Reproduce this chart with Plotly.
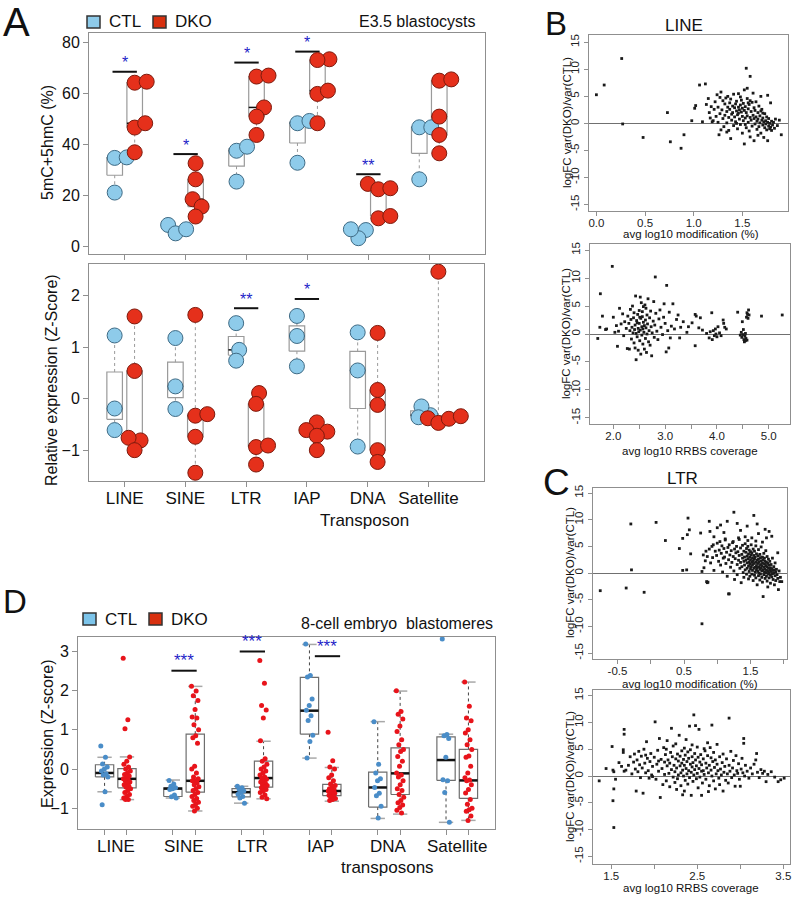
import math
import plotly.graph_objects as go

W, H = 796, 897
FONT = "Liberation Sans, Arial, sans-serif"

categories = ["LINE", "SINE", "LTR", "IAP", "DNA", "Satellite"]

# ---------------- Panel A (E3.5 blastocysts) ----------------
a_meth_ctl = [[21.2, 34.8, 35.0], [8.5, 5.2, 6.8], [25.5, 37.6, 39.2],
              [32.9, 48.4, 49.3], [6.5, 3.3, 6.8], [26.4, 46.8, 46.8]]
a_meth_dko = [[37.0, 46.7, 48.4, 64.3, 64.7], [32.7, 26.4, 18.6, 15.7, 11.8],
              [66.7, 67.1, 54.6, 51.0, 43.8], [73.5, 73.2, 59.9, 61.2, 48.4],
              [24.6, 22.5, 22.9, 11.1, 12.0], [36.6, 43.8, 51.0, 65.1, 65.6]]
a_meth_sig_cat = [0, 1, 2, 3, 4]
a_meth_sig_y = [68.6, 36.3, 72.2, 76.5, 28.4]
a_meth_sig_lab = ["*", "*", "*", "*", "**"]

a_expr_ctl = [[1.23, -0.19, -0.61], [1.18, 0.24, -0.20], [1.47, 0.95, 0.74],
              [1.61, 1.22, 0.63], [1.29, 0.55, -0.93], [-0.32, -0.15, -0.36]]
a_expr_dko = [[1.60, 0.54, -0.81, -0.76, -1.00], [1.63, -0.33, -0.30, -0.74, -1.44],
              [0.11, -0.10, -0.94, -0.91, -1.28], [-0.46, -0.61, -0.64, -0.72, -1.00],
              [1.28, 0.17, -0.12, -1.00, -1.23], [2.47, -0.38, -0.47, -0.39, -0.34]]
a_expr_sig_cat = [2, 3]
a_expr_sig_y = [1.76, 1.94]
a_expr_sig_lab = ["**", "*"]

# ---------------- Panel D (8-cell embryo blastomeres) ----------------
d_ctl_pts = [
    [0.59, 0.30, 0.13, 0.05, 0.0, -0.05, -0.12, -0.15, -0.2, -0.58, -0.91],
    [-0.29, -0.38, -0.44, -0.48, -0.5, -0.52, -0.66, -0.71, -0.74],
    [-0.44, -0.48, -0.52, -0.56, -0.6, -0.64, -0.7, -0.74, -0.87],
    [3.19, 2.39, 2.35, 1.79, 1.62, 1.5, 1.36, 1.24, 0.86, 0.70, 0.28],
    [1.21, 0.12, -0.1, -0.25, -0.3, -0.47, -0.62, -0.68, -0.95, -1.25],
    [3.32, 0.88, 0.85, 0.78, 0.3, -0.27, -0.3, -0.6, -1.36],
]
d_dko_pts = [
    [2.83, 1.26, 1.03, 0.31, 0.2, 0.12, 0.05, 0.0, -0.05, -0.1, -0.14, -0.18, -0.22, -0.25,
     -0.27, -0.3, -0.33, -0.36, -0.4, -0.43, -0.46, -0.5, -0.55, -0.6, -0.65, -0.7, -0.74, -0.78, -0.78],
    [2.11, 1.99, 1.87, 1.75, 1.52, 1.33, 1.3, 1.13, 1.0, 0.85, 0.8, 0.66, 0.07, 0.0, -0.1, -0.2,
     -0.25, -0.3, -0.3, -0.35, -0.4, -0.45, -0.5, -0.55, -0.6, -0.65, -0.7, -0.75, -0.8, -0.85,
     -0.9, -0.95, -1.0, -1.07],
    [2.77, 2.19, 1.62, 1.51, 1.30, 0.72, 0.26, 0.2, 0.12, 0.05, 0.0, -0.05, -0.1, -0.15, -0.2,
     -0.23, -0.26, -0.3, -0.33, -0.36, -0.4, -0.42, -0.45, -0.48, -0.52, -0.56, -0.6, -0.66, -0.72, -0.76],
    [0.94, 0.21, 0.05, 0.0, -0.15, -0.22, -0.3, -0.38, -0.42, -0.46, -0.5, -0.52, -0.54, -0.56,
     -0.58, -0.6, -0.62, -0.64, -0.67, -0.7, -0.72, -0.75, -0.78, -0.8],
    [2.0, 1.47, 1.4, 1.28, 1.1, 0.96, 0.75, 0.62, 0.5, 0.45, 0.32, 0.2, 0.07, -0.1, -0.15, -0.2,
     -0.3, -0.4, -0.5, -0.55, -0.65, -0.72, -0.8, -0.86, -0.92, -0.98, -1.05, -1.12],
    [2.22, 1.6, 1.3, 1.23, 1.0, 0.92, 0.75, 0.62, 0.5, 0.33, 0.3, 0.07, -0.1, -0.22, -0.28, -0.3,
     -0.4, -0.52, -0.61, -0.78, -0.9, -1.0, -1.04, -1.08, -1.2, -1.31],
]
d_ctl_q1 = [-0.20, -0.70, -0.71, 0.89, -0.97, -0.29]
d_ctl_med = [-0.10, -0.50, -0.59, 1.49, -0.47, 0.23]
d_ctl_q3 = [0.11, -0.48, -0.50, 2.34, -0.08, 0.82]
d_ctl_lo = [-0.58, -0.74, -0.87, 0.28, -1.26, -1.36]
d_ctl_hi = [0.30, -0.28, -0.44, 3.18, 1.21, 0.89]
d_dko_q1 = [-0.48, -0.59, -0.46, -0.68, -0.65, -0.75]
d_dko_med = [-0.25, -0.30, -0.23, -0.56, -0.11, -0.29]
d_dko_q3 = [0.01, 0.89, 0.20, -0.39, 0.54, 0.50]
d_dko_lo = [-0.78, -1.07, -0.76, -0.82, -1.15, -1.31]
d_dko_hi = [0.31, 2.11, 0.71, 0.04, 1.99, 2.22]
d_sig_cat = [1, 2, 3]
d_sig_y = [2.51, 3.0, 2.88]
d_sig_lab = ["***", "***", "***"]

# ---------------- Panel B (LINE) ----------------
b_mod_pts = [
    (0.00, 5.3), (0.08, 7.1), (0.26, 12.0), (0.27, -0.1), (0.48, -2.6), (0.73, 2.0), (0.76, -3.4),
    (0.87, -4.6), (0.90, -2.1), (0.98, 0.5), (1.01, 2.8), (1.02, 3.3), (1.06, 7.1), (1.12, 7.3),
    (1.09, 0.3), (1.54, 10.2), (1.58, 8.7),
    (1.13, 3.5), (1.15, 4.6), (1.16, 2.0), (1.17, 1.0), (1.18, 3.1), (1.20, 0.5), (1.21, 2.6),
    (1.22, 4.0), (1.23, 1.3), (1.24, 5.3), (1.25, 0.2), (1.25, 3.0), (1.26, -2.1), (1.27, 4.8),
    (1.27, 1.8), (1.28, 5.8), (1.29, 2.5), (1.30, 0.9), (1.30, 4.2), (1.31, -0.6), (1.32, 3.6),
    (1.32, 1.5), (1.33, 4.7), (1.34, 2.2), (1.34, 0.1), (1.35, 5.0), (1.35, 3.0), (1.36, 1.1),
    (1.36, -1.3), (1.37, 3.8), (1.37, 2.6), (1.38, -2.8), (1.38, 4.5), (1.39, 1.7), (1.39, 0.6),
    (1.40, 3.2), (1.40, 2.0), (1.41, 5.4), (1.41, -0.4), (1.42, 2.9), (1.42, 1.2), (1.43, 3.6),
    (1.43, 0.3), (1.44, 4.1), (1.44, 2.3), (1.45, -1.0), (1.45, 1.6), (1.46, 3.0), (1.46, 5.5),
    (1.47, 2.5), (1.47, 0.8), (1.48, 3.4), (1.48, -0.2), (1.49, 2.1), (1.49, 4.3), (1.50, 1.3),
    (1.50, 2.8), (1.50, -1.8), (1.51, 3.7), (1.51, 0.5), (1.52, -3.8), (1.52, 2.4), (1.52, 6.2),
    (1.53, 1.0), (1.53, 3.1), (1.54, -0.8), (1.54, 2.0), (1.55, 4.6), (1.55, 1.4), (1.55, 6.5),
    (1.56, 0.2), (1.56, 2.7), (1.57, -1.4), (1.57, 3.5), (1.58, 1.1), (1.58, -2.5), (1.59, 2.2),
    (1.59, 0.6), (1.60, 3.9), (1.60, -0.5), (1.61, 1.5), (1.61, 5.6), (1.62, 0.9), (1.62, -3.2),
    (1.63, 2.4), (1.63, -0.1), (1.64, 1.2), (1.64, 4.0), (1.65, 0.4), (1.65, -1.1), (1.66, 2.0),
    (1.66, 0.8), (1.67, 3.2), (1.67, -0.6), (1.68, 1.4), (1.68, 0.1), (1.69, 5.0), (1.69, -1.8),
    (1.70, 0.6), (1.70, 2.6), (1.71, -0.3), (1.71, 1.0), (1.72, -2.6), (1.72, 0.3), (1.73, 1.8),
    (1.73, -0.8), (1.74, 0.5), (1.74, -0.1), (1.75, 1.2), (1.75, -1.2), (1.76, 5.2), (1.76, -3.2),
    (1.76, 0.2), (1.77, -0.5), (1.77, 0.9), (1.78, -1.0), (1.78, 0.0), (1.79, 3.8), (1.79, -0.7),
    (1.80, 0.4), (1.80, -1.3), (1.81, -0.3), (1.82, 0.2), (1.83, -0.9), (1.84, 0.8), (1.86, -0.4),
    (1.88, 0.6), (1.90, -2.1), (1.62, 2.9), (1.56, 3.8), (1.48, 4.9), (1.44, 0.0), (1.34, -1.6),
    (1.28, -1.2), (1.19, 0.3), (1.71, 1.9), (1.66, -2.2), (1.53, -0.2), (1.46, 1.9), (1.58, 4.2),
    (1.69, 2.3),
]
b_cov_pts = [
    (1.70, -0.8), (1.74, 1.2), (1.75, 7.2), (1.79, 3.2), (1.85, 0.8), (1.87, 0.9), (1.98, 12.1),
    (2.00, 3.0), (2.03, 0.3), (2.06, 1.5), (2.08, -2.2), (2.10, 0.5), (2.12, 4.6), (2.15, 1.8),
    (2.18, 3.6), (2.20, -0.3), (2.22, 2.2), (2.25, 1.0), (2.27, -2.6), (2.28, 3.2), (2.30, 1.9),
    (2.31, -2.7), (2.32, 0.6), (2.33, 4.4), (2.34, 2.6), (2.35, -0.9), (2.36, 1.2), (2.37, 5.0),
    (2.38, 0.2), (2.39, 2.9), (2.40, -1.6), (2.40, 3.8), (2.41, 0.8), (2.42, -2.5), (2.42, 1.6),
    (2.43, 6.8), (2.44, -4.6), (2.44, 0.1), (2.45, 2.4), (2.46, -0.5), (2.47, 3.5), (2.48, 1.0),
    (2.48, -2.9), (2.49, 0.4), (2.50, 4.2), (2.50, 1.9), (2.51, -1.2), (2.52, 6.6), (2.52, 0.7),
    (2.53, 2.8), (2.53, -3.6), (2.54, 5.6), (2.55, 1.3), (2.55, -0.2), (2.56, 3.1), (2.57, 0.9),
    (2.57, -1.8), (2.58, 4.9), (2.58, 2.1), (2.59, 0.3), (2.60, -2.7), (2.60, 1.5), (2.61, 5.2),
    (2.62, -0.8), (2.62, 2.5), (2.63, 1.1), (2.64, -3.3), (2.65, 0.0), (2.65, 3.4), (2.66, 1.8),
    (2.67, 6.3), (2.68, -1.4), (2.69, 0.6), (2.70, 2.9), (2.71, -2.0), (2.72, 4.1), (2.73, 1.3),
    (2.74, -3.9), (2.75, 0.2), (2.77, 2.3), (2.78, 5.8), (2.79, -0.6), (2.80, 1.6), (2.81, 10.2),
    (2.82, 3.7), (2.84, 0.5), (2.86, -1.0), (2.88, 2.7), (2.90, 4.3), (2.92, 1.2), (2.95, -0.1),
    (2.97, 3.0), (2.98, 5.4), (3.00, 1.9), (3.02, -3.2), (3.03, 8.7), (3.05, 0.6), (3.07, -2.5),
    (3.08, 3.9), (3.10, -0.7), (3.12, 1.4), (3.15, 5.4), (3.18, 0.9), (3.22, 2.6), (3.25, 3.4),
    (3.28, -0.7), (3.30, 1.2), (3.35, 2.2), (3.42, 0.3), (3.45, 1.3), (3.52, 2.0), (3.58, 3.5),
    (3.58, -2.1), (3.60, 3.2), (3.65, 1.1), (3.68, 2.9), (3.72, 0.7), (3.80, 0.1), (3.85, -0.7),
    (3.87, 0.4), (3.90, 3.8), (3.91, -1.0), (3.93, 0.6), (3.95, -0.3), (3.97, 0.9), (3.98, 0.0),
    (4.00, -0.5), (4.02, 1.3), (4.05, 0.2), (4.08, -0.3), (4.12, 2.5), (4.13, 1.9), (4.15, 1.2),
    (4.18, 0.9), (4.40, 3.9), (4.45, -0.2), (4.47, 0.3), (4.48, -0.6), (4.49, 2.2), (4.50, -0.1),
    (4.51, 0.8), (4.52, -1.0), (4.53, -1.4), (4.54, -0.4), (4.55, -1.2), (4.55, 0.1), (4.56, -0.8),
    (4.57, 3.0), (4.58, -1.1), (4.58, 3.8), (4.60, 2.8), (4.61, 4.3), (4.62, 3.4), (4.59, 3.5),
    (4.86, 3.2), (5.26, 3.4), (2.46, 2.0), (2.56, 4.0), (2.63, 4.6), (2.51, 3.0),
]

# ---------------- Panel C (LTR) ----------------
c_mod_pts = [
    (-0.76, -3.3), (-0.37, -2.8), (-0.29, 0.6), (-0.10, -3.6), (-0.30, 9.2), (0.08, 9.5), (0.22, 6.1),
    (0.43, 4.6), (0.48, 6.5), (0.48, 0.5), (0.54, 0.6), (0.55, 7.2), (0.58, 8.1), (0.60, 3.6),
    (0.75, 7.5), (0.77, -9.5), (0.88, 9.7), (0.89, 7.8), (0.84, -1.6), (0.85, -1.8), (0.77, 0.3),
    (1.18, -3.9), (0.56, 10.3), (1.25, 11.4), (1.55, 10.8), (1.00, 8.5), (1.05, 9.0), (1.15, 9.7),
    (1.30, 9.3), (1.45, 8.8), (1.60, 9.2), (1.72, 8.2), (1.35, 8.0), (0.95, 6.8), (1.10, 7.6),
    (1.04, 5.9), (1.12, 6.4), (1.24, 5.9), (1.32, 6.6), (1.42, 6.8), (1.52, 6.6), (1.62, 7.4),
    (1.74, 6.6), (1.82, 6.9), (1.78, 7.8), (1.68, 5.8), (1.58, 6.0), (1.46, 6.1), (0.94, 5.3),
    (0.83, 4.1), (0.79, 3.4),
    (0.80, 1.0), (0.82, 2.3), (0.85, 3.1), (0.86, -1.7), (0.88, 4.5), (0.90, 1.9), (0.92, 5.0),
    (0.93, 2.9), (0.95, 0.5), (0.97, 4.1), (0.99, 3.3), (1.00, 5.6), (1.02, 2.2), (1.03, 4.3),
    (1.05, 1.5), (1.06, 3.7), (1.07, 5.1), (1.08, 0.2), (1.09, 2.8), (1.10, 4.6), (1.11, 3.0),
    (1.12, 6.2), (1.13, 1.8), (1.14, 3.9), (1.15, -0.6), (1.16, 4.8), (1.17, 2.5), (1.17, -3.9),
    (1.18, 5.3), (1.19, 3.4), (1.20, 1.1), (1.21, 4.2), (1.22, 2.0), (1.23, 5.7), (1.24, 3.1),
    (1.25, 0.4), (1.26, 4.5), (1.26, -1.2), (1.27, 2.7), (1.28, 3.8), (1.29, 5.0), (1.30, 1.6),
    (1.30, -0.3), (1.31, 4.0), (1.32, 2.4), (1.33, 3.3), (1.33, 6.3), (1.34, 0.9), (1.35, 4.7),
    (1.35, 2.0), (1.36, -1.8), (1.37, 3.5), (1.37, 1.2), (1.38, 5.2), (1.38, 2.8), (1.39, 0.1),
    (1.40, 4.1), (1.40, 2.2), (1.40, -0.8), (1.41, 3.0), (1.41, 1.5), (1.42, 5.5), (1.42, 0.6),
    (1.43, 3.9), (1.43, 2.4), (1.44, -0.2), (1.44, 4.6), (1.45, 1.9), (1.45, 3.2), (1.45, 0.9),
    (1.46, 2.7), (1.46, 5.0), (1.47, -1.1), (1.47, 3.6), (1.47, 1.3), (1.48, 2.1), (1.48, 4.3),
    (1.48, 0.3), (1.49, 3.0), (1.49, 1.7), (1.49, -0.6), (1.50, 2.5), (1.50, 4.0), (1.50, 0.8),
    (1.51, 3.4), (1.51, 1.2), (1.51, 5.3), (1.52, 2.0), (1.52, -0.2), (1.52, 3.8), (1.53, 0.5),
    (1.53, 2.8), (1.53, 1.5), (1.54, 4.5), (1.54, -1.4), (1.54, 2.3), (1.55, 0.9), (1.55, 3.3),
    (1.55, 1.8), (1.56, -0.4), (1.56, 2.6), (1.56, 4.1), (1.57, 1.1), (1.57, 3.0), (1.57, 0.2),
    (1.58, 2.0), (1.58, 5.1), (1.58, -0.9), (1.59, 1.4), (1.59, 3.6), (1.59, 0.6), (1.60, 2.4),
    (1.60, -2.2), (1.60, 1.0), (1.61, 3.2), (1.61, 0.3), (1.61, 1.8), (1.62, -0.5), (1.62, 2.6),
    (1.62, 4.4), (1.63, 1.2), (1.63, 0.0), (1.63, 2.1), (1.64, -1.3), (1.64, 3.5), (1.64, 0.7),
    (1.65, 1.6), (1.65, 2.9), (1.65, -0.2), (1.66, 0.9), (1.66, 2.3), (1.66, 4.9), (1.67, -0.8),
    (1.67, 1.4), (1.67, 0.4), (1.68, 3.0), (1.68, 1.9), (1.68, -1.7), (1.69, 0.6), (1.69, 2.5),
    (1.69, -4.4), (1.70, 1.1), (1.70, -0.3), (1.70, 3.7), (1.71, 0.2), (1.71, 1.7), (1.71, 2.8),
    (1.72, -1.0), (1.72, 0.8), (1.72, 2.2), (1.73, 0.0), (1.73, 1.4), (1.73, 4.2), (1.74, -0.6),
    (1.74, 2.0), (1.74, 0.5), (1.75, 1.2), (1.75, -1.5), (1.75, 3.1), (1.76, 0.3), (1.76, 1.8),
    (1.76, -2.6), (1.77, 0.9), (1.77, -0.2), (1.77, 2.6), (1.78, 0.1), (1.78, 1.5), (1.78, -0.9),
    (1.79, 0.6), (1.79, 2.2), (1.80, -0.4), (1.80, 1.0), (1.80, -1.9), (1.81, 0.3), (1.81, 1.6),
    (1.82, -0.7), (1.82, 0.8), (1.83, 2.8), (1.83, -0.1), (1.84, 0.5), (1.84, -1.2), (1.85, 1.2),
    (1.85, 0.0), (1.86, -2.2), (1.86, 0.6), (1.87, -0.5), (1.87, 1.9), (1.88, 0.2), (1.88, -1.4),
    (1.89, 0.7), (1.90, -0.3), (1.91, 3.8), (1.91, -1.0), (1.92, -3.1), (1.93, 0.4), (1.94, -1.6),
    (1.95, -0.8), (1.97, -1.6),
]
c_cov_pts = [
    (1.36, -0.9), (1.44, 1.4), (1.51, 5.5), (1.52, 1.1), (1.53, 0.8), (1.53, -2.4), (1.52, -4.6),
    (1.53, -9.6), (1.55, -0.6), (1.59, 2.5), (1.62, 1.8), (1.65, 8.7), (1.65, 7.8), (1.64, 4.9),
    (1.64, 4.4), (1.65, 0.9), (1.67, 1.1), (1.70, 2.0), (1.72, 3.6), (1.74, 0.4), (1.76, 2.6),
    (1.77, 4.1), (1.78, 1.3), (1.79, -2.8), (1.80, 3.0), (1.81, 0.8), (1.82, 4.6), (1.83, 2.1),
    (1.84, -0.3), (1.85, 3.7), (1.86, 1.5), (1.87, -3.2), (1.88, 5.0), (1.89, 2.4), (1.90, 0.6),
    (1.91, 6.4), (1.92, 3.3), (1.93, 1.0), (1.94, -0.4), (1.95, 2.7), (1.96, 4.2), (1.97, 0.2),
    (1.98, 1.8), (2.00, 3.5), (2.01, 10.1), (2.02, -0.6), (2.03, 2.2), (2.04, 4.8), (2.05, 0.9),
    (2.06, 7.0), (2.07, -4.0), (2.08, 3.1), (2.09, 1.4), (2.10, -1.6), (2.11, 5.3), (2.12, 2.6),
    (2.12, 0.3), (2.13, 4.0), (2.14, -0.9), (2.15, 1.9), (2.15, 6.6), (2.16, 3.0), (2.17, 0.5),
    (2.18, -2.0), (2.18, 2.4), (2.19, 4.4), (2.20, 8.9), (2.20, 1.2), (2.21, 3.6), (2.22, -0.2),
    (2.22, 5.6), (2.23, 2.0), (2.24, 0.8), (2.24, -1.2), (2.25, 3.2), (2.25, 6.0), (2.26, 1.5),
    (2.27, 4.1), (2.27, -0.5), (2.28, 2.8), (2.28, 0.2), (2.29, 7.6), (2.30, 1.9), (2.30, 3.7),
    (2.31, -1.8), (2.31, 0.6), (2.32, 2.4), (2.32, 4.7), (2.33, -3.5), (2.33, 1.1), (2.34, 3.1),
    (2.34, 0.0), (2.35, 5.2), (2.35, 2.0), (2.36, -0.8), (2.36, 3.9), (2.37, 1.4), (2.37, 6.8),
    (2.38, 0.4), (2.38, 2.7), (2.39, -1.5), (2.39, 4.5), (2.40, 1.0), (2.40, 3.3), (2.41, 9.3),
    (2.41, -0.3), (2.42, 2.2), (2.42, 4.9), (2.43, 0.7), (2.43, -3.6), (2.44, 1.7), (2.44, 3.6),
    (2.45, -1.0), (2.45, 2.5), (2.46, 11.4), (2.46, 0.2), (2.47, 4.2), (2.47, 1.2), (2.48, 9.4),
    (2.48, 3.0), (2.49, -0.5), (2.49, 1.9), (2.50, 5.4), (2.50, 0.5), (2.51, 3.5), (2.51, -2.2),
    (2.52, 8.7), (2.52, 1.4), (2.53, 2.6), (2.53, -0.2), (2.54, 4.0), (2.55, 0.9), (2.55, 2.1),
    (2.56, -1.3), (2.57, 3.2), (2.57, 1.0), (2.58, 0.3), (2.59, 4.7), (2.60, 2.4), (2.60, -0.6),
    (2.61, 1.5), (2.62, 3.8), (2.62, 6.2), (2.63, 0.6), (2.64, 2.0), (2.64, -1.8), (2.65, 5.3),
    (2.66, 1.1), (2.66, 3.4), (2.67, 9.5), (2.67, 0.0), (2.68, 2.7), (2.69, 4.4), (2.69, -0.9),
    (2.70, 1.6), (2.71, 3.0), (2.71, -2.4), (2.72, 0.4), (2.73, 2.2), (2.73, 5.9), (2.74, 1.0),
    (2.75, -0.4), (2.76, 3.6), (2.76, -1.6), (2.77, 1.3), (2.78, 0.2), (2.79, 2.5), (2.80, -2.8),
    (2.80, 4.1), (2.81, 0.7), (2.82, 1.8), (2.83, -0.8), (2.84, 3.2), (2.85, 0.4), (2.86, -1.3),
    (2.87, 10.8), (2.87, 2.0), (2.88, 0.9), (2.89, 4.6), (2.90, -0.3), (2.91, 1.5), (2.92, 2.9),
    (2.93, 0.2), (2.94, -1.9), (2.95, 3.8), (2.96, 1.0), (2.97, 0.5), (2.98, 2.3), (2.99, -0.6),
    (3.00, -1.9), (3.01, 1.3), (3.02, 3.3), (3.03, 0.6), (3.04, 7.0), (3.04, 6.1), (3.05, 0.0),
    (3.06, 2.0), (3.08, 0.9), (3.10, -0.4), (3.12, 1.5), (3.14, 0.4), (3.16, 2.2), (3.18, 3.0),
    (3.19, 4.2), (3.20, 0.7), (3.22, -0.3), (3.24, 1.2), (3.26, 0.5), (3.28, 0.9), (3.30, -1.05),
    (3.32, 0.3), (3.36, 0.8), (3.40, -0.2), (3.44, -1.05), (3.47, -0.7), (3.51, -0.4), (2.05, 2.8),
    (1.98, -0.1), (1.90, 3.9), (2.14, 5.0), (2.26, -2.5), (2.44, 5.8), (2.58, 5.1), (2.35, -2.8),
    (2.63, -2.9), (2.55, -3.6),
]

# ---------------- styling constants ----------------
CTL_FILL, CTL_EDGE = "#8ecbea", "#3f6b85"
DKO_FILL, DKO_EDGE = "#e5301b", "#7d1a0d"
D_CTL, D_DKO = "#4a8dc8", "#e8141b"
STAR = "#1f1fc8"
FRAME = "#8f8f8f"
GROUP_OFF = 0.164


def dom_x(a, b):
    return [a / W, b / W]


def dom_y(top, bottom):
    return [1 - bottom / H, 1 - top / H]


def fivenum(v):
    s = sorted(v)
    n = len(s)
    n4 = math.floor((n + 3) / 2) / 2
    d = [1, n4, (n + 1) / 2, n + 1 - n4, n]
    return [0.5 * (s[math.floor(di) - 1] + s[math.ceil(di) - 1]) for di in d]


def swarm(vals, center, ppx, ppy, mind=11.0, step=1.5):
    order = sorted(range(len(vals)), key=lambda i: vals[i])
    placed = []
    xs = [0.0] * len(vals)
    cands = [0.0]
    for j in range(1, 40):
        cands += [j * step, -j * step]
    for i in order:
        yp = vals[i] * ppy
        chosen = cands[-1]
        for dx in cands:
            if all((dx - px) ** 2 + (yp - py) ** 2 >= mind ** 2 for px, py in placed):
                chosen = dx
                break
        placed.append((chosen, yp))
        xs[i] = center + chosen / ppx
    return xs


def box_shapes(centers, lo, q1, med, q3, hi, halfw, caphw):
    bx, by, mx, my, wx, wy, cx, cy = [], [], [], [], [], [], [], []
    for c, l, a, m, b, h in zip(centers, lo, q1, med, q3, hi):
        bx += [c - halfw, c + halfw, c + halfw, c - halfw, c - halfw, None]
        by += [a, a, b, b, a, None]
        mx += [c - halfw, c + halfw, None]
        my += [m, m, None]
        wx += [c, c, None, c, c, None]
        wy += [b, h, None, a, l, None]
        if caphw:
            cx += [c - caphw, c + caphw, None, c - caphw, c + caphw, None]
            cy += [h, h, None, l, l, None]
    return (bx, by), (mx, my), (wx, wy), (cx, cy)


fig = go.Figure()


def add_boxes(xa, ya, centers, stats, halfw, caphw, box_col, med_col, med_w, wh_col, cap_col):
    lo, q1, med, q3, hi = stats
    (bx, by), (mx, my), (wx, wy), (cx, cy) = box_shapes(centers, lo, q1, med, q3, hi, halfw, caphw)
    fig.add_trace(go.Scatter(x=wx, y=wy, mode="lines", xaxis=xa, yaxis=ya, hoverinfo="skip",
                             line=dict(color=wh_col, width=1, dash="dot"), showlegend=False))
    if caphw:
        fig.add_trace(go.Scatter(x=cx, y=cy, mode="lines", xaxis=xa, yaxis=ya, hoverinfo="skip",
                                 line=dict(color=cap_col, width=1.5), showlegend=False))
    fig.add_trace(go.Scatter(x=bx, y=by, mode="lines", xaxis=xa, yaxis=ya, hoverinfo="skip",
                             line=dict(color=box_col, width=1.2), showlegend=False))
    fig.add_trace(go.Scatter(x=mx, y=my, mode="lines", xaxis=xa, yaxis=ya, hoverinfo="skip",
                             line=dict(color=med_col, width=med_w), showlegend=False))


def add_sig(xa, ya, cats, ys, labs, halfw, shifts, fsize, gap):
    lx, ly = [], []
    for c, y, s in zip(cats, ys, shifts):
        lx += [c + 1 + s - halfw, c + 1 + s + halfw, None]
        ly += [y, y, None]
    fig.add_trace(go.Scatter(x=lx, y=ly, mode="lines", xaxis=xa, yaxis=ya, hoverinfo="skip",
                             line=dict(color="#111", width=2), showlegend=False))
    for c, y, s, t in zip(cats, ys, shifts, labs):
        fig.add_annotation(x=c + 1 + s, y=y, xref=xa, yref=ya, text=t, showarrow=False,
                           yanchor="middle", yshift=gap, font=dict(family=FONT, size=fsize, color=STAR))


# ---------- Panel A, both sub-panels ----------
for (ctl, dko, xa, ya, ppy, sc, sy, sl) in [
    (a_meth_ctl, a_meth_dko, "x", "y", 2.55, a_meth_sig_cat, a_meth_sig_y, a_meth_sig_lab),
    (a_expr_ctl, a_expr_dko, "x2", "y2", 51.4, a_expr_sig_cat, a_expr_sig_y, a_expr_sig_lab),
]:
    for grp, sign in [(ctl, -1), (dko, 1)]:
        centers = [i + 1 + sign * GROUP_OFF for i in range(len(categories))]
        fn = [fivenum(v) for v in grp]
        stats = [[f[k] for f in fn] for k in range(5)]
        add_boxes(xa, ya, centers, stats, 0.128, None, "#9a9a9a", "#111", 1.5, "#9a9a9a", None)
    add_sig(xa, ya, sc, sy, sl, 0.2, [0] * len(sc), 16, 9)
    for grp, sign, fc, ec in [(ctl, -1, CTL_FILL, CTL_EDGE), (dko, 1, DKO_FILL, DKO_EDGE)]:
        xs, ys = [], []
        for i, v in enumerate(grp):
            xs += swarm(v, i + 1 + sign * GROUP_OFF, 60.9, ppy)
            ys += v
        fig.add_trace(go.Scatter(x=xs, y=ys, mode="markers", xaxis=xa, yaxis=ya, showlegend=False,
                                 marker=dict(size=15, color=fc, line=dict(color=ec, width=1))))

# ---------- Panel D ----------
for grp, sign, stats, col in [
    (d_ctl_pts, -1, [d_ctl_lo, d_ctl_q1, d_ctl_med, d_ctl_q3, d_ctl_hi], D_CTL),
    (d_dko_pts, 1, [d_dko_lo, d_dko_q1, d_dko_med, d_dko_q3, d_dko_hi], D_DKO),
]:
    centers = [i + 1 + sign * GROUP_OFF for i in range(len(categories))]
    add_boxes("x3", "y3", centers, stats, 0.134, 0.105, "#6e6e6e", "#111", 2.5, "#444", "#a8a8a8")
    xs, ys = [], []
    for i, v in enumerate(grp):
        for k, val in enumerate(v):
            xs.append(centers[i] + ((k * 0.618034) % 1.0 - 0.5) * 0.11)
            ys.append(val)
    fig.add_trace(go.Scatter(x=xs, y=ys, mode="markers", xaxis="x3", yaxis="y3", showlegend=False,
                             marker=dict(size=5, color=col)))
add_sig("x3", "y3", d_sig_cat, d_sig_y, d_sig_lab, 0.185, [0.0, 0.0, 0.1], 17, 10)

# ---------- Panels B and C scatter ----------
for pts, xa, ya in [(b_mod_pts, "x4", "y4"), (b_cov_pts, "x5", "y5"),
                    (c_mod_pts, "x6", "y6"), (c_cov_pts, "x7", "y7")]:
    fig.add_trace(go.Scatter(x=[p[0] for p in pts], y=[p[1] for p in pts], mode="markers",
                             xaxis=xa, yaxis=ya, showlegend=False,
                             marker=dict(size=2.8, symbol="square", color="#1a1a1a")))

# ---------- axes ----------
base = dict(showline=True, mirror=True, linecolor=FRAME, linewidth=1, showgrid=False, zeroline=False,
            ticks="outside", ticklen=5, tickcolor=FRAME, tickwidth=1, automargin=False,
            tickfont=dict(family=FONT, size=16, color="#111"))
small = dict(base, ticklen=4, tickfont=dict(family=FONT, size=11.5, color="#222"))
smallx = dict(small, ticklabelstandoff=-3)
yfc = dict(small, tickangle=-90, tickvals=[-15, -10, -5, 0, 5, 10, 15],
           ticktext=["-15", "-10", "-5", "0", "5", "10", "15"], zeroline=True,
           zerolinecolor="#707070", zerolinewidth=1)

cat_pos = list(range(1, len(categories) + 1))
d_ticks = sorted([c - GROUP_OFF for c in cat_pos] + [c + GROUP_OFF for c in cat_pos])

fig.update_layout(
    width=W, height=H, margin=dict(l=0, r=0, t=0, b=0, pad=0),
    paper_bgcolor="white", plot_bgcolor="white", showlegend=False,
    xaxis=dict(base, domain=dom_x(89, 485), range=[0.414, 6.915], tickvals=cat_pos,
               showticklabels=False, anchor="y"),
    yaxis=dict(base, domain=dom_y(33, 254), range=[-2.9, 83.8], tickvals=[0, 20, 40, 60, 80], anchor="x"),
    xaxis2=dict(base, domain=dom_x(89, 484), range=[0.414, 6.915], tickvals=cat_pos,
                ticktext=categories, tickfont=dict(family=FONT, size=17, color="#111"),
                ticklabelstandoff=-3, anchor="y2"),
    yaxis2=dict(base, domain=dom_y(264, 481), range=[-1.6, 2.62], tickvals=[-1, 0, 1, 2], anchor="x2"),
    xaxis3=dict(base, domain=dom_x(78, 495), range=[0.447, 6.553], tickvals=d_ticks,
                showticklabels=False, anchor="y3"),
    yaxis3=dict(base, domain=dom_y(637, 829), range=[-1.53, 3.37], tickvals=[-1, 0, 1, 2, 3], anchor="x3"),
    xaxis4=dict(smallx, domain=dom_x(589, 788), range=[-0.076, 1.969], tickvals=[0, 0.5, 1.0, 1.5],
                ticktext=["0.0", "0.5", "1.0", "1.5"], anchor="y4"),
    yaxis4=dict(yfc, domain=dom_y(35, 211), range=[-16.2, 16.35], anchor="x4"),
    xaxis5=dict(smallx, domain=dom_x(590, 790), range=[1.55, 5.41],
                tickvals=[2.0, 2.5, 3.0, 3.5, 4.0, 4.5, 5.0],
                ticktext=["2.0", "", "3.0", "", "4.0", "", "5.0"], anchor="y5"),
    yaxis5=dict(yfc, domain=dom_y(244, 424), range=[-16.1, 16.1], anchor="x5"),
    xaxis6=dict(smallx, domain=dom_x(593, 787), range=[-0.869, 2.049],
                tickvals=[-0.5, 0, 0.5, 1.0, 1.5, 2.0],
                ticktext=["-0.5", "", "0.5", "", "1.5", ""], anchor="y6"),
    yaxis6=dict(yfc, domain=dom_y(488, 659), range=[-16.1, 15.94], anchor="x6"),
    xaxis7=dict(smallx, domain=dom_x(593, 790), range=[1.288, 3.578],
                tickvals=[1.5, 2.0, 2.5, 3.0, 3.5],
                ticktext=["1.5", "", "2.5", "", "3.5"], anchor="y7"),
    yaxis7=dict(yfc, domain=dom_y(690, 864), range=[-16.4, 16.04], anchor="x7"),
)


def ptext(x, y, text, size, angle=0, xanchor="center", color="#111"):
    fig.add_annotation(x=x / W, y=1 - y / H, xref="paper", yref="paper", text=text, showarrow=False,
                       xanchor=xanchor, yanchor="middle", textangle=angle,
                       font=dict(family=FONT, size=size, color=color))


# panel letters
ptext(16, 22, "A", 40)
ptext(556, 23, "B", 33)
ptext(556, 482, "C", 37)
ptext(15, 601, "D", 33)

# panel A texts
ptext(47, 143, "5mC+5hmC (%)", 16, -90)
ptext(51, 380, "Relative expression (Z-Score)", 16, -90)
ptext(364, 520, "Transposon", 17)
ptext(478, 22, "E3.5 blastocysts", 16, xanchor="right")

# panel D texts
ptext(47, 734, "Expression (Z-score)", 16, -90)
ptext(387, 867, "transposons", 17)
ptext(495, 623, "8-cell embryo\u00a0\u00a0blastomeres", 16, xanchor="right")
for i, c in enumerate(categories):
    fig.add_annotation(x=i + 1, y=1 - 846 / H, xref="x3", yref="paper", text=c, showarrow=False,
                       yanchor="middle", font=dict(family=FONT, size=17, color="#111"))

# panels B/C texts
ptext(684, 25, "LINE", 17)
ptext(691, 234, "avg log10 modification (%)", 11.5)
ptext(567, 123, "logFC var(DKO)/var(CTL)", 11.5, -90)
ptext(690, 451, "avg log10 RRBS coverage", 11.5)
ptext(566, 334, "logFC var(DKO)/var(CTL)", 11.5, -90)
ptext(682, 478, "LTR", 17)
ptext(690, 684, "avg log10 modification (%)", 11.5)
ptext(570, 573, "logFC var(DKO)/var(CTL)", 11.5, -90)
ptext(691, 888, "avg log10 RRBS coverage", 11.5)
ptext(570, 777, "logFC var(DKO)/var(CTL)", 11.5, -90)

# legends (A and D)
for (y0, y1, sx) in [(16, 28, [(87, 100, CTL_FILL, "CTL", 107), (153, 166, "#d8300f", "DKO", 173)]),
                     (613, 625, [(83, 96, "#7cc4ea", "CTL", 103), (149, 162, "#d8300f", "DKO", 169)])]:
    for (x0, x1, col, lab, tx) in sx:
        fig.add_shape(type="rect", xref="paper", yref="paper", x0=x0 / W, x1=x1 / W,
                      y0=1 - y1 / H, y1=1 - y0 / H, fillcolor=col, line=dict(color="#333", width=1.5))
        ptext(tx, (y0 + y1) / 2, lab, 17, xanchor="left")

fig.write_html("out.html", config={"displayModeBar": False},
               post_script="document.body.style.margin='0px';document.body.style.overflow='hidden';")
